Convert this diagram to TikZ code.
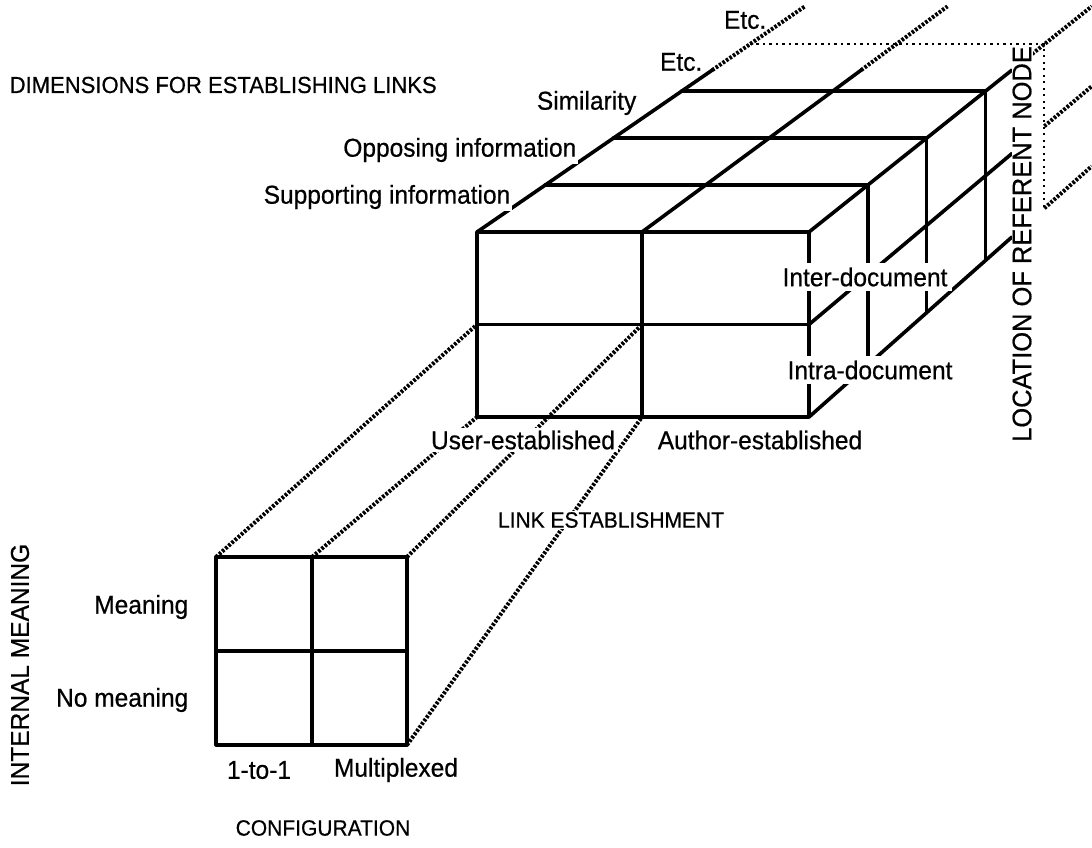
\documentclass[tikz,border=0pt]{standalone}
\usepackage{fontspec}
\setmainfont{Liberation Sans}[FakeStretch=0.95,FakeBold=0.6]
\usetikzlibrary{calc}
\begin{document}
\begin{tikzpicture}[x=1pt,y=-1pt,
  edge/.style={line width=3.6pt, line cap=round, line join=round},
  hatch/.style={line width=4pt, dash pattern=on 2.6pt off 1.6pt},
  dotline/.style={line width=2pt, dash pattern=on 2.2pt off 4.3pt},
  lbl/.style={font=\fontsize{25.8}{30}\selectfont, fill=white, inner sep=1.5pt},
  title/.style={font=\fontsize{22.1}{26}\selectfont, fill=white, inner sep=1.5pt}]
\useasboundingbox (0,0) rectangle (1092,848);
\fill[white] (0,0) rectangle (1092,848);

% vanishing point of the receding edges
\coordinate (V) at (2888,-1427);

% front face of the link cube
\coordinate (FTL) at (477,232);
\coordinate (FTM) at (642,232);
\coordinate (FTR) at (809,232);
\coordinate (FML) at (477,324.5);
\coordinate (FMM) at (642,324.5);
\coordinate (FMR) at (809,324.5);
\coordinate (FBL) at (477,417);
\coordinate (FBM) at (642,417);
\coordinate (FBR) at (809,417);

% points further back along the receding edges
\foreach \p in {FTL,FTM,FTR,FMR,FBR}{
  \foreach \k/\f in {1/0.0283,2/0.0566,3/0.0849,4/0.1132,s/0.0976,d/0.101,e/0.136}{
    \coordinate (\p\k) at ($(\p)!\f!(V)$);
  }
}

% the 2x2 cell square
\coordinate (STL) at (216,557);
\coordinate (STM) at (312,557);
\coordinate (STR) at (407,557);
\coordinate (SML) at (216,651);
\coordinate (SMR) at (407,651);
\coordinate (SBL) at (216,745);
\coordinate (SBM) at (312,745);
\coordinate (SBR) at (407,745);

% projection lines from the square to the cube
\draw[hatch] (STL) -- (FML);
\draw[hatch] (STM) -- (FBL);
\draw[hatch] (STR) -- (FMM);
\draw[hatch] (SBR) -- (FBM);

% continuation of the receding edges
\draw[hatch] (FTLs) -- (FTLe);
\draw[hatch] (FTMs) -- (FTMe);
\draw[hatch] (FTRd) -- (FTRe);
\draw[hatch] (FMR4) -- (FMRe);
\draw[hatch] (FBR4) -- (FBRe);
\draw[dotline] (FTL4) -- (FTR4) -- (FBR4);

% cube: front face
\draw[edge] (FTL) rectangle (FBR);
\draw[edge] (FTM) -- (FBM);
\draw[edge] (FML) -- (FMR);
% cube: receding edges
\foreach \p in {FTL,FTM,FTR,FMR,FBR}{
  \draw[edge] (\p) -- (\p s);
}
% cube: slices along the depth
\foreach \k in {1,2,3}{
  \draw[edge] (FTL\k) -- (FTR\k);
  \draw[edge] (FTR\k) -- (FBR\k);
}

% cell square
\draw[edge, line width=3.2pt] (STL) rectangle (SBR);
\draw[edge, line width=3.2pt] (STM) -- (SBM);
\draw[edge, line width=3.2pt] (SML) -- (SMR);

% labels
\node[title, font=\fontsize{23.2}{27}\selectfont, anchor=west] (dimT) at (8,85) {DIMENSIONS FOR ESTABLISHING LINKS};
\node[lbl, anchor=east] (supp) at (512,197) {Supporting information};
\node[lbl, anchor=east] (opp) at (578,150) {Opposing information};
\node[lbl, anchor=east] (sim) at (638,103) {Similarity};
\node[lbl, anchor=east, inner sep=0.5pt] (etcA) at (703,62) {Etc.};
\node[lbl, anchor=east, inner sep=0.5pt] (etcB) at (767,20) {Etc.};
\node[lbl, inner sep=5pt] (inter) at (865,277) {Inter-document};
\node[lbl, inner sep=5pt] (intra) at (870,370) {Intra-document};
\node[lbl, inner sep=3pt] (user) at (523,440) {User-established};
\node[lbl, inner sep=3pt] (auth) at (760,440) {Author-established};
\node[title] (linkT) at (611,520) {LINK ESTABLISHMENT};
\node[title, font=\fontsize{26.8}{31}\selectfont, rotate=90, inner sep=1pt] (locT) at (1022,244) {LOCATION OF REFERENT NODE};
\node[title, font=\fontsize{25.8}{30}\selectfont, rotate=90] (intT) at (20,665) {INTERNAL MEANING};
\node[lbl, anchor=east] (mean) at (190,607) {Meaning};
\node[lbl, anchor=east] (nomean) at (190,700) {No meaning};
\node[lbl] (one) at (259,770) {1-to-1};
\node[lbl] (multi) at (396,770) {Multiplexed};
\node[title] (confT) at (323,828) {CONFIGURATION};
\end{tikzpicture}
\end{document}
